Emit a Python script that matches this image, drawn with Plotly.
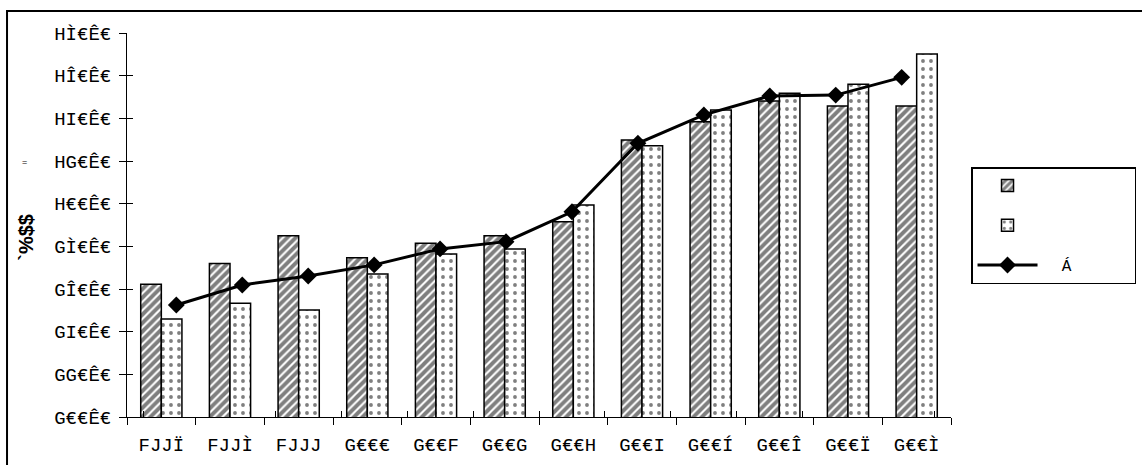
import plotly.graph_objects as go

# Category labels and tick labels (text as it renders in the source font)
years = ["FJJÏ", "FJJÌ", "FJJJ", "G€€€", "G€€F", "G€€G",
         "G€€H", "G€€I", "G€€Í", "G€€Î", "G€€Ï", "G€€Ì"]
y_tick_vals = [200, 220, 240, 260, 280, 300, 320, 340, 360, 380]
y_tick_text = ["G€€Ê€", "GG€Ê€", "GI€Ê€", "GÎ€Ê€", "GÌ€Ê€",
               "H€€Ê€", "HG€Ê€", "HI€Ê€", "HÎ€Ê€", "HÌ€Ê€"]

# Series values
hatched_vals = [262.2, 272.0, 285.0, 274.7, 281.4, 285.0,
                291.5, 329.8, 338.4, 348.1, 345.8, 345.8]
dotted_vals = [245.9, 253.3, 250.2, 267.0, 276.4, 278.8,
               299.4, 327.2, 343.9, 351.7, 356.0, 370.2]
line_vals = [252.5, 261.9, 266.1, 271.3, 278.8, 282.2,
             296.2, 328.3, 341.6, 350.5, 350.9, 359.2]

series_names = ["\u00a0", "\u00a0", "\u00a0" * 2 + "Á" + "\u00a0" * 6]

FONT = "Liberation Mono, DejaVu Sans Mono, monospace"

fig = go.Figure()

fig.add_trace(go.Bar(
    x=years, y=hatched_vals, name=series_names[0], legendgroup="a",
    marker=dict(color="white", line=dict(color="black", width=1.5),
                pattern=dict(shape="/", fgcolor="black", bgcolor="white",
                             size=6, solidity=0.65)),
))
fig.add_trace(go.Bar(
    x=years, y=dotted_vals, name=series_names[1], legendgroup="b",
    marker=dict(color="white", line=dict(color="black", width=1.5),
                pattern=dict(shape=".", fgcolor="black", bgcolor="white",
                             size=8, solidity=0.18)),
))
fig.add_trace(go.Scatter(
    x=years, y=line_vals, name=series_names[2], legendgroup="c",
    mode="lines+markers", xaxis="x2", yaxis="y2",
    line=dict(color="black", width=3),
    marker=dict(symbol="diamond", size=13, color="black"),
))

axis_font = dict(family=FONT, size=19, color="black")

fig.update_layout(
    width=1142, height=465,
    margin=dict(l=127, r=191, t=33, b=48, autoexpand=False),
    paper_bgcolor="white", plot_bgcolor="white",
    barmode="group", bargap=0.4, bargroupgap=0,
    font=dict(family=FONT, color="black"),
    xaxis=dict(type="category", categoryorder="array", categoryarray=years,
               tickson="boundaries", ticks="outside", ticklen=7,
               tickcolor="black", tickwidth=1,
               showline=True, linecolor="black", linewidth=1,
               showgrid=False, zeroline=False, tickfont=axis_font,
               ticklabelstandoff=10),
    yaxis=dict(range=[200, 380], tickvals=y_tick_vals, ticktext=y_tick_text,
               ticks="outside", ticklen=7, tickcolor="black", tickwidth=1,
               showline=True, linecolor="black", linewidth=1,
               showgrid=False, zeroline=False, tickfont=axis_font,
               ticklabelstandoff=4),
    # overlay axes carry the inner half of the crossing tick marks
    xaxis2=dict(type="category", categoryorder="array", categoryarray=years,
                overlaying="x", tickson="boundaries", ticks="inside",
                ticklen=6, tickcolor="black", tickwidth=1,
                showticklabels=False, showline=False, showgrid=False,
                zeroline=False),
    yaxis2=dict(range=[200, 380], tickvals=y_tick_vals, overlaying="y",
                side="left", ticks="inside", ticklen=6, tickcolor="black",
                tickwidth=1, showticklabels=False, showline=False,
                showgrid=False, zeroline=False),
    legend=dict(x=1.0243, y=0.651, xanchor="left", yanchor="top",
                bordercolor="black", borderwidth=1.5, bgcolor="white",
                font=dict(family=FONT, size=16, color="black"),
                tracegroupgap=16, itemwidth=60,
                traceorder="grouped"),
    showlegend=True,
)

# outer chart frame
fig.add_shape(type="rect", xref="paper", yref="paper",
              x0=-0.1456, x1=1.26, y0=-0.14, y1=1.0573,
              line=dict(color="black", width=2), fillcolor="rgba(0,0,0,0)",
              layer="above")

# axis title pieces
fig.add_annotation(x=-0.1385, y=0.469, xref="paper", yref="paper",
                   text="<b>`%$$</b>", textangle=-90, showarrow=False,
                   font=dict(family="Liberation Sans, Arial, sans-serif",
                             size=20, color="black"))
fig.add_annotation(x=-0.1299, y=0.664, xref="paper", yref="paper",
                   text="=", showarrow=False,
                   font=dict(family="Liberation Sans, Arial, sans-serif",
                             size=9, color="black"))

fig.write_html("out.html")
